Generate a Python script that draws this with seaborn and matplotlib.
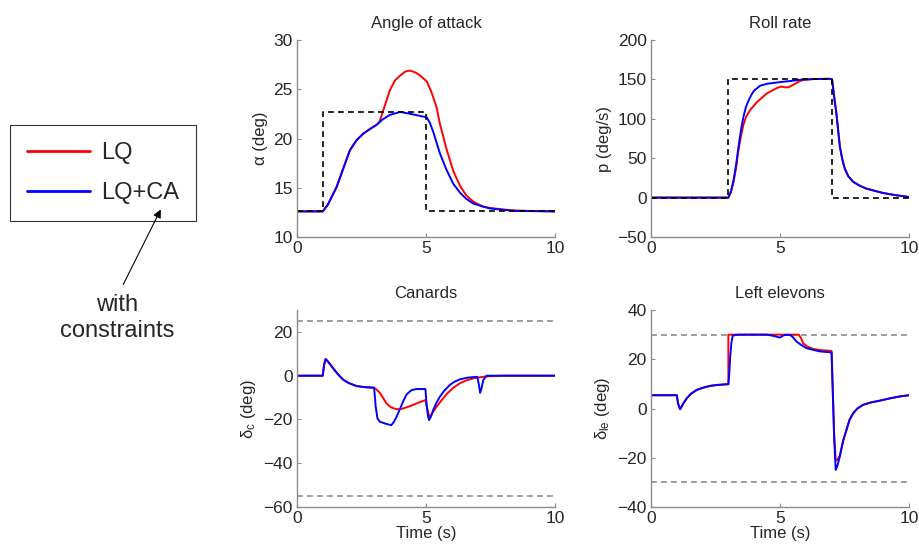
import matplotlib.pyplot as plt
import seaborn as sns

# time axis is 0..10 s in every panel

# angle of attack (deg)
alpha_ref_t = [0, 1, 1, 5, 5, 10]
alpha_ref = [12.6, 12.6, 22.7, 22.7, 12.6, 12.6]
alpha_lq_t = [0, 1.0, 1.2, 1.54, 1.8, 2.05, 2.3, 2.57, 2.85, 3.09, 3.2, 3.35, 3.6, 3.8,
              4.0, 4.2, 4.38, 4.6, 4.77, 5.03, 5.2, 5.41, 5.54, 5.8, 6.06, 6.32, 6.57,
              6.83, 7.2, 7.48, 8.0, 8.4, 9.0, 10]
alpha_lq = [12.6, 12.6, 13.3, 15.1, 17.0, 18.8, 19.8, 20.5, 21.0, 21.4, 21.7, 22.9, 24.9, 25.9,
            26.4, 26.8, 26.9, 26.7, 26.4, 25.8, 24.8, 23.2, 21.5, 18.9, 16.7, 15.2, 14.2,
            13.6, 13.1, 12.95, 12.8, 12.7, 12.65, 12.6]
alpha_ca_t = [0, 1.0, 1.2, 1.54, 1.8, 2.05, 2.3, 2.57, 2.85, 3.09, 3.3, 3.6, 4.0, 4.5,
              5.03, 5.15, 5.28, 5.54, 5.8, 6.06, 6.32, 6.55, 6.83, 7.2, 7.48, 8.0, 8.5, 10]
alpha_ca = [12.6, 12.6, 13.3, 15.1, 17.0, 18.8, 19.8, 20.5, 21.0, 21.4, 21.9, 22.4, 22.7, 22.45,
            22.15, 21.6, 20.7, 18.5, 16.8, 15.4, 14.5, 13.9, 13.4, 13.1, 12.9, 12.75, 12.65, 12.6]

# roll rate (deg/s)
roll_ref_t = [0, 3, 3, 7, 7, 10]
roll_ref = [0, 0, 150, 150, 0, 0]
roll_lq_t = [0, 3.0, 3.1, 3.2, 3.3, 3.39, 3.5, 3.58, 3.68, 3.84, 4.1, 4.48, 4.87, 5.06, 5.2,
             5.32, 5.45, 5.58, 5.75, 5.9, 6.3, 6.93, 7.02, 7.1, 7.19, 7.32, 7.42, 7.51,
             7.65, 7.84, 8.1, 8.35, 8.99, 9.5, 10]
roll_lq = [0, 0, 7, 20, 38, 60, 80, 92, 102, 111, 121, 132, 139, 141, 140,
           140, 142, 144.5, 147.5, 149.5, 150.5, 150.8, 150, 128, 106, 65, 48, 37,
           27, 20, 15, 11.4, 5.9, 3, 0.8]
roll_ca_t = [0, 3.0, 3.1, 3.2, 3.3, 3.39, 3.5, 3.58, 3.68, 3.78, 3.9, 4.0, 4.23, 4.5, 5.0,
             5.4, 5.77, 6.3, 6.93, 7.02, 7.1, 7.19, 7.32, 7.42, 7.51, 7.65, 7.84, 8.1,
             8.35, 8.99, 9.5, 10]
roll_ca = [0, 0, 8, 22, 42, 64, 88, 102, 115, 123, 131, 136, 142, 144.5, 146.6,
           148, 149.5, 150.5, 150.8, 150, 128, 106, 65, 48, 37, 27, 20, 15,
           11.4, 5.9, 3, 0.8]

# canards (deg)
canard_limits = [25, -55]
canard_lq_t = [0, 1.0, 1.05, 1.11, 1.2, 1.4, 1.6, 1.79, 2.0, 2.3, 2.6, 2.99, 3.1, 3.21, 3.34,
               3.47, 3.65, 3.86, 4.05, 4.24, 4.45, 4.63, 4.8, 4.98, 5.03, 5.1, 5.15, 5.25,
               5.41, 5.6, 5.8, 6.05, 6.31, 6.55, 6.83, 7.35, 8, 10]
canard_lq = [0, 0, 5, 7.6, 6.5, 3.4, 0.5, -1.8, -3.3, -4.7, -5.2, -5.5, -6.5, -7.8, -10.2,
             -12.7, -14.5, -15.3, -15.2, -14.5, -13.6, -12.7, -11.9, -11.1, -14, -17.5, -18.8, -17,
             -14.2, -11.3, -8.4, -5.6, -3.5, -2.2, -1.2, -0.3, 0, 0]
canard_ca_t = [0, 1.0, 1.05, 1.11, 1.2, 1.4, 1.6, 1.79, 2.0, 2.3, 2.6, 2.99, 3.05, 3.12, 3.21,
               3.4, 3.55, 3.66, 3.76, 3.86, 4.0, 4.11, 4.25, 4.44, 4.63, 4.98, 5.02, 5.08,
               5.12, 5.2, 5.28, 5.4, 5.54, 5.7, 5.92, 6.1, 6.31, 6.6, 6.99, 7.05, 7.1, 7.15,
               7.22, 7.35, 8, 10]
canard_ca = [0, 0, 5, 7.6, 6.5, 3.4, 0.5, -1.8, -3.3, -4.7, -5.2, -5.5, -14, -19.5, -21,
             -21.8, -22.3, -22.6, -21, -18.8, -15, -11.9, -8.5, -6.6, -6.1, -6.1, -12.7, -18.5,
             -20.3, -18.5, -15.7, -12.5, -9.6, -7, -4.3, -2.8, -1.7, -0.9, -0.5, -4, -7.8, -6,
             -2, 0, 0, 0]

# left elevons (deg)
elevon_limits = [30, -30]
elevon_lq_t = [0, 1.0, 1.05, 1.13, 1.25, 1.39, 1.55, 1.78, 2.0, 2.29, 2.6, 3.0, 3.0, 5.73,
               5.82, 5.9, 6.05, 6.29, 6.6, 7.0, 7.06, 7.1, 7.16, 7.22, 7.32, 7.45, 7.58,
               7.7, 7.84, 8.0, 8.22, 8.5, 8.87, 9.25, 9.64, 10]
elevon_lq = [5.4, 5.4, 2, -0.3, 2, 4.2, 6, 7.6, 8.4, 9.2, 9.6, 9.9, 30, 30,
             28.5, 26.5, 25.2, 24.2, 23.7, 23.4, 3, -10, -21, -21, -19, -13, -8.6,
             -4.5, -1.9, 0, 1.5, 2.4, 3.2, 4.1, 4.9, 5.4]
elevon_ca_t = [0, 1.0, 1.05, 1.13, 1.25, 1.39, 1.55, 1.78, 2.0, 2.29, 2.6, 3.0, 3.04, 3.07,
               3.12, 3.17, 3.3, 3.45, 4.0, 4.48, 4.75, 5.0, 5.1, 5.19, 5.39, 5.5, 5.64, 5.8,
               6.03, 6.3, 6.55, 7.0, 7.06, 7.1, 7.16, 7.22, 7.32, 7.45, 7.58, 7.7, 7.84, 8.0,
               8.22, 8.5, 8.87, 9.25, 9.64, 10]
elevon_ca = [5.4, 5.4, 2, -0.3, 2, 4.2, 6, 7.6, 8.4, 9.2, 9.6, 9.9, 15, 21,
             27, 29.6, 29.9, 30, 30, 30, 29.5, 28.8, 29.5, 29.9, 29.9, 29, 27.2, 26,
             24.5, 23.8, 23.2, 22.8, 2.2, -12, -24.9, -23.5, -19.5, -13, -8.6, -4.5, -1.9, 0,
             1.5, 2.4, 3.2, 4.1, 4.9, 5.4]

sns.set_style("ticks")
plt.rcParams['font.family'] = ['Liberation Sans', 'DejaVu Sans']
plt.rcParams['mathtext.fontset'] = 'custom'
plt.rcParams['mathtext.rm'] = 'Liberation Sans'
plt.rcParams['mathtext.it'] = 'Liberation Sans'

GRAY = '#8c8c8c'
DASH = (0, (3.5, 2.5))


def draw_panel(ax, lq_t, lq, ca_t, ca, ref_t=None, ref=None, limits=None):
    kw = dict(sort=False, estimator=None, ax=ax, legend=False)
    if limits is not None:
        for v in limits:
            ax.axhline(v, color=GRAY, ls=DASH, lw=1.2)
    sns.lineplot(x=lq_t, y=lq, color='#ff0000', lw=1.4, label='LQ', **kw)
    sns.lineplot(x=ca_t, y=ca, color='#0000ff', lw=1.4, label='LQ+CA', **kw)
    if ref_t is not None:
        sns.lineplot(x=ref_t, y=ref, color='black', lw=1.2, linestyle=DASH, **kw)
    ax.set_xlim(0, 10)
    ax.set_xticks([0, 5, 10])
    sns.despine(ax=ax)
    for s in ['left', 'bottom']:
        ax.spines[s].set_color(GRAY)
        ax.spines[s].set_linewidth(1.0)
    ax.tick_params(direction='in', length=3, color=GRAY, labelsize=12.5, pad=3)


fig = plt.figure(figsize=(9.2, 5.47), dpi=100)
w, h = 0.2804, 0.3601
ax1 = fig.add_axes([0.3228, 0.5667, w, h])
ax2 = fig.add_axes([0.7076, 0.5667, w, h])
ax3 = fig.add_axes([0.3228, 0.0731, w, h])
ax4 = fig.add_axes([0.7076, 0.0731, w, h])

draw_panel(ax1, alpha_lq_t, alpha_lq, alpha_ca_t, alpha_ca, alpha_ref_t, alpha_ref)
ax1.set_ylim(10, 30)
ax1.set_yticks([10, 15, 20, 25, 30])
ax1.set_title('Angle of attack', fontsize=12, pad=9)
ax1.set_ylabel('α (deg)', fontsize=12)

draw_panel(ax2, roll_lq_t, roll_lq, roll_ca_t, roll_ca, roll_ref_t, roll_ref)
ax2.set_ylim(-50, 200)
ax2.set_yticks([-50, 0, 50, 100, 150, 200])
ax2.set_title('Roll rate', fontsize=12, pad=9)
ax2.set_ylabel('p (deg/s)', fontsize=12)

draw_panel(ax3, canard_lq_t, canard_lq, canard_ca_t, canard_ca, limits=canard_limits)
ax3.set_ylim(-60, 30)
ax3.set_yticks([-60, -40, -20, 0, 20])
ax3.set_title('Canards', fontsize=12, pad=9)
ax3.set_ylabel(r'$\delta_c$ (deg)', fontsize=12)
ax3.set_xlabel('Time (s)', fontsize=12, labelpad=0)

draw_panel(ax4, elevon_lq_t, elevon_lq, elevon_ca_t, elevon_ca, limits=elevon_limits)
ax4.set_ylim(-40, 40)
ax4.set_yticks([-40, -20, 0, 20, 40])
ax4.set_title('Left elevons', fontsize=12, pad=9)
ax4.set_ylabel(r'$\delta_{le}$ (deg)', fontsize=12)
ax4.set_xlabel('Time (s)', fontsize=12, labelpad=0)

# legend on the left, taken from the first panel
handles = ax1.get_lines()[:2]
leg = fig.legend(handles, ['LQ', 'LQ+CA'], loc='upper left',
                 bbox_to_anchor=(0.011, 0.771), fontsize=17, frameon=True,
                 fancybox=False, handlelength=2.7, handletextpad=0.45,
                 borderpad=0.7, labelspacing=0.78, borderaxespad=0)
leg.get_frame().set_edgecolor('black')
leg.get_frame().set_linewidth(0.8)
for ln in leg.get_lines():
    ln.set_linewidth(2)

fig.text(0.127, 0.462, 'with\nconstraints', ha='center', va='top',
         fontsize=17, linespacing=1.2)
arrow = plt.matplotlib.patches.FancyArrowPatch(
    (122 / 920, 1 - 287 / 547), (162 / 920, 1 - 207 / 547),
    transform=fig.transFigure, arrowstyle='-|>', mutation_scale=12,
    color='black', lw=0.8)
arrow.set_zorder(10)
fig.add_artist(arrow)

fig.savefig('out.png', dpi=100)
